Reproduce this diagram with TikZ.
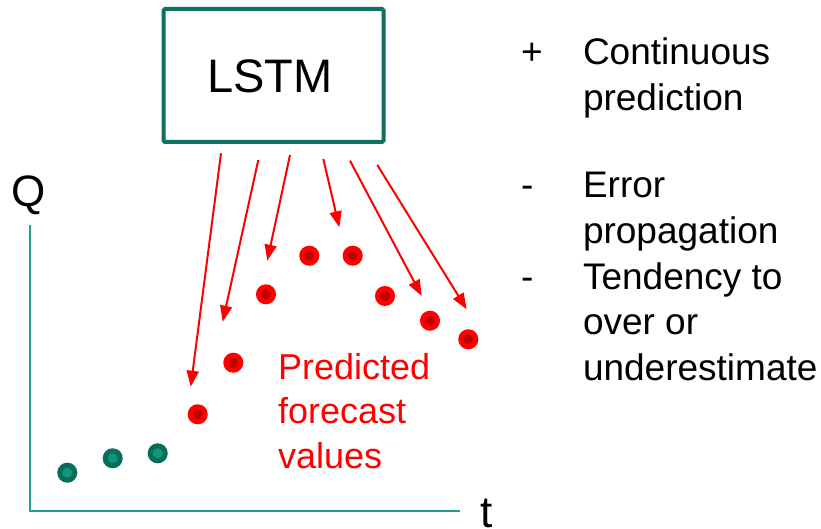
\documentclass[tikz,border=0pt]{standalone}
\usepackage{fontspec}
\setmainfont{Liberation Sans}
\usetikzlibrary{arrows.meta}
\definecolor{boxteal}{RGB}{14,114,96}
\definecolor{axisteal}{RGB}{34,160,142}
\definecolor{dotout}{RGB}{8,110,92}
\definecolor{dotin}{RGB}{16,150,128}
\definecolor{predred}{RGB}{255,0,0}
\definecolor{reddark}{RGB}{192,0,0}
\begin{document}
\begin{tikzpicture}[x=1pt,y=-1pt,
  txt/.style={inner sep=0pt, outer sep=0pt},
  bigtxt/.style={txt, font=\fontsize{37}{45.5}\selectfont},
  axistxt/.style={txt, font=\fontsize{44}{52}\selectfont},
  reddot/.style={circle, draw=predred, fill=reddark, line width=5pt, minimum size=15pt, inner sep=0pt},
  greendot/.style={circle, draw=dotout, fill=dotin, line width=5pt, minimum size=15pt, inner sep=0pt},
  arr/.style={draw=predred, line width=2pt, -{Triangle[length=16pt,width=12pt]}},
  axisline/.style={draw=axisteal, line width=2pt}]
\useasboundingbox (0,0) rectangle (821,529);
% LSTM box
\node[draw=boxteal, line width=4pt, minimum width=220pt, minimum height=133pt, rounded corners=1.5pt, inner sep=0pt] (lstm) at (273.5,75.5) {};
\node[txt, anchor=base, font=\fontsize{47}{56}\selectfont] (lstmtxt) at (270,92.7) {LSTM};
% axes
\coordinate (ytop) at (29.5,225);
\coordinate (origin) at (29.5,510.7);
\coordinate (xend) at (460,510.7);
\draw[axisline] (ytop) -- (origin) -- (xend);
\node[axistxt, anchor=base west] (qlab) at (11,206.5) {Q};
\node[axistxt, anchor=base west] (tlab) at (480,527) {t};
% observed points
\node[greendot] (g1) at (67.3,472.7) {};
\node[greendot] (g2) at (112.7,458.3) {};
\node[greendot] (g3) at (157.7,453.3) {};
% predicted points
\node[reddot] (r1) at (197.7,414.3) {};
\node[reddot] (r2) at (233.3,362.7) {};
\node[reddot] (r3) at (266,294.3) {};
\node[reddot] (r4) at (309.3,255.7) {};
\node[reddot] (r5) at (352.7,255.7) {};
\node[reddot] (r6) at (385,296) {};
\node[reddot] (r7) at (430,320.7) {};
\node[reddot] (r8) at (468.3,339.3) {};
% arrows
\coordinate (a1s) at (221,153.3);   \coordinate (a1e) at (190.7,386.7);
\coordinate (a2s) at (258.3,160);   \coordinate (a2e) at (222.7,321.7);
\coordinate (a3s) at (290,155);     \coordinate (a3e) at (267.3,260.7);
\coordinate (a4s) at (323.3,159);   \coordinate (a4e) at (339.3,227.3);
\coordinate (a5s) at (350,160.7);   \coordinate (a5e) at (421.7,296);
\coordinate (a6s) at (377.3,165);   \coordinate (a6e) at (466.7,309.3);
\draw[arr] (a1s) -- (a1e);
\draw[arr] (a2s) -- (a2e);
\draw[arr] (a3s) -- (a3e);
\draw[arr] (a4s) -- (a4e);
\draw[arr] (a5s) -- (a5e);
\draw[arr] (a6s) -- (a6e);
% predicted label (base anchor = last line's baseline)
\node[txt, text=predred, anchor=base west, align=left, font=\fontsize{36}{44.5}\selectfont] (predlab) at (278,468.3) {Predicted\\forecast\\values};
% right list
\node[bigtxt, anchor=base west] (b1) at (521,65) {+};
\node[bigtxt, anchor=base west, align=left] (i1) at (583,110.5) {Continuous\\prediction};
\node[bigtxt, anchor=base west] (b2) at (521,198) {-};
\node[bigtxt, anchor=base west, align=left] (i2) at (583,243.5) {Error\\propagation};
\node[bigtxt, anchor=base west] (b3) at (521,289) {-};
\node[bigtxt, anchor=base west, align=left] (i3) at (583,380) {Tendency to\\over or\\underestimate};
\end{tikzpicture}
\end{document}
